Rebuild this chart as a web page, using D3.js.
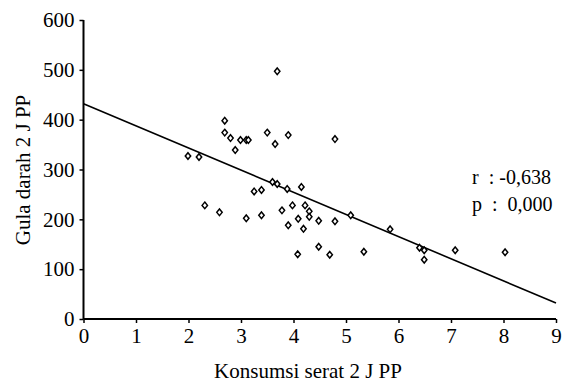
<!DOCTYPE html>
<html><head><meta charset="utf-8">
<script src="https://cdn.jsdelivr.net/npm/d3@7/dist/d3.min.js"></script>
<style>body{margin:0;background:#fff}svg{display:block}svg text{font-family:"Liberation Serif",serif !important}</style>
</head><body><svg id="c" width="564" height="386"></svg>
<script>
const fiberX = [1.99,2.20,2.31,2.59,2.69,2.69,2.80,2.89,2.99,3.10,3.14,3.10,3.25,3.39,3.39,3.50,3.60,3.65,3.69,3.69,3.78,3.88,3.90,3.90,3.98,4.08,4.09,4.15,4.19,4.22,4.30,4.30,4.48,4.48,4.69,4.79,4.79,5.09,5.34,5.84,6.40,6.49,6.49,7.08,8.03];
const sugarY = [327,325,228,214,398,374,363,339,359,359,359,202,256,259,208,374,275,351,271,497,218,261,369,188,228,130,201,265,181,228,216,205,197,145,129,361,196,208,135,180,143,138,119,138,134];
const fitX = [0, 9];
const fitY = [432, 32];
const xTicks = [0,1,2,3,4,5,6,7,8,9];
const yTicks = [0,100,200,300,400,500,600];
const statLines = ["r  : -0,638", "p  :  0,000"];

const svg = d3.select("#c");
const x = d3.scaleLinear().domain([0,9]).range([83.5,556]);
const y = d3.scaleLinear().domain([0,600]).range([319,20]);

const xa = svg.append("g").attr("transform","translate(0,319)")
  .call(d3.axisBottom(x).tickValues(xTicks).tickSize(4).tickPadding(5).tickFormat(d3.format("d")));
const ya = svg.append("g").attr("transform","translate(83.5,0)")
  .call(d3.axisLeft(y).tickValues(yTicks).tickSize(4).tickPadding(5).tickFormat(d3.format("d")));
[xa,ya].forEach(a=>{
  a.attr("font-size", 21);
  a.select(".domain").attr("stroke","#000").attr("stroke-width",2);
  a.selectAll(".tick line").attr("stroke","#000").attr("stroke-width",1.5);
  a.selectAll(".tick text").attr("fill","#000");
});
xa.select(".domain").attr("d","M83.5,0H556");
ya.select(".domain").attr("d","M0,20V319");

svg.append("line")
  .attr("x1",x(fitX[0])).attr("y1",y(fitY[0]))
  .attr("x2",x(fitX[1])).attr("y2",y(fitY[1]))
  .attr("stroke","#000").attr("stroke-width",1.6);

const diamond = "M0,-3.3L2.7,0L0,3.3L-2.7,0Z";
svg.append("g").selectAll("path").data(fiberX.map((v,i)=>[v,sugarY[i]])).join("path")
  .attr("d",diamond).attr("transform",d=>`translate(${x(d[0])},${y(d[1])})`)
  .attr("fill","#fff").attr("stroke","#000").attr("stroke-width",1.5);

svg.append("text").attr("x",308).attr("y",378).attr("text-anchor","middle")
  .attr("font-size",21).attr("fill","#000").text("Konsumsi serat 2 J PP");
svg.append("text").attr("transform","translate(30,170) rotate(-90)").attr("text-anchor","middle")
  .attr("font-size",21).attr("fill","#000").text("Gula darah 2 J PP");

svg.append("g").selectAll("text").data(statLines).join("text")
  .attr("x",472).attr("y",(d,i)=>184+i*27)
  .attr("font-size",20).attr("fill","#000").attr("xml:space","preserve").style("white-space","pre").text(d=>d);
</script></body></html>
